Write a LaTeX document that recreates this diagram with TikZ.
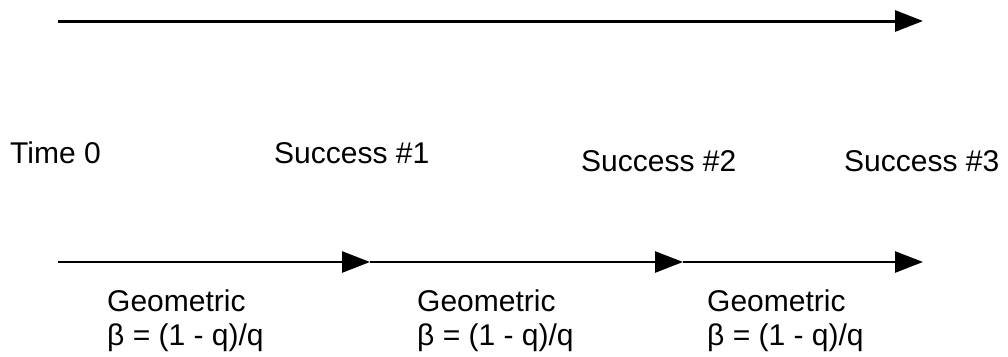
\documentclass[tikz,border=0pt]{standalone}
\usepackage{fontspec}
\setmainfont{Liberation Sans}
\usetikzlibrary{arrows.meta}
\begin{document}
\begin{tikzpicture}[x=1pt,y=-1pt,
  conn/.style={line width=2.6pt,-{Triangle[length=28pt,width=21pt]}},
  lbl/.style={anchor=base west,inner sep=0pt,font=\fontsize{30}{34}\selectfont},
  dist/.style={anchor=base west,inner sep=0pt,align=left,font=\fontsize{30}{34}\selectfont}]
\useasboundingbox (0,0) rectangle (1008,356);
% top time axis
\coordinate (a0) at (58,21);
\coordinate (a1) at (923,21);
\draw[conn,line width=3pt] (a0) -- (a1);
% event labels
\node[lbl] (t0) at (10,163) {Time 0};
\node[lbl] (l1) at (274,163) {Success \#1};
\node[lbl] (l2) at (581,171) {Success \#2};
\node[lbl] (l3) at (844,171) {Success \#3};
% inter-arrival arrows
\coordinate (p0) at (58,262);
\coordinate (p1) at (370,262);
\coordinate (p2) at (683,262);
\coordinate (p3) at (923,262);
\draw[conn] (p0) -- (p1);
\draw[conn] (p1) -- (p2);
\draw[conn] (p2) -- (p3);
% distribution labels (anchor at baseline of the second line)
\node[dist] (g1) at (107,345) {Geometric\\β = (1 - q)/q};
\node[dist] (g2) at (417,345) {Geometric\\β = (1 - q)/q};
\node[dist] (g3) at (707,345) {Geometric\\β = (1 - q)/q};
\end{tikzpicture}
\end{document}
